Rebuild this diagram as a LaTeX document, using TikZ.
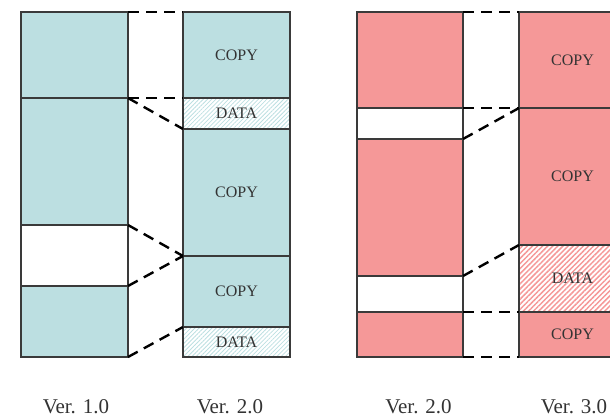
\documentclass[tikz,border=0pt]{standalone}
\usepackage{fontspec}
\setmainfont{Liberation Serif}
\usetikzlibrary{patterns.meta}
\definecolor{tealfill}{HTML}{BCDFE1}
\definecolor{pinkfill}{HTML}{F59898}
\definecolor{edge}{HTML}{3A3A3A}
\definecolor{txt}{HTML}{333333}
\begin{document}
\begin{tikzpicture}[x=1pt,y=-1pt,
  seg/.style={draw=edge, line width=1.1pt, anchor=north west, inner sep=0pt, outer sep=0pt,
    text=txt, font=\fontsize{16}{18}\selectfont},
  tealseg/.style={seg, fill=tealfill},
  pinkseg/.style={seg, fill=pinkfill},
  whiteseg/.style={seg, fill=white},
  tealdata/.style={seg, pattern={Lines[angle=45,distance=3pt,line width=0.8pt]}, pattern color=tealfill},
  pinkdata/.style={seg, pattern={Lines[angle=45,distance=3.6pt,line width=1.5pt]}, pattern color=pinkfill},
  link/.style={draw=black, line width=2.4pt, dash pattern=on 11pt off 7pt},
  ver/.style={anchor=base, text=txt, font=\fontsize{21}{24}\selectfont, inner sep=0pt}]
\clip (0,0) rectangle (610,417);
% Ver 1.0
\node[tealseg,  minimum width=107pt, minimum height=86pt] (a1) at (21,12) {};
\node[tealseg,  minimum width=107pt, minimum height=127pt] (a2) at (21,98) {};
\node[whiteseg, minimum width=107pt, minimum height=61pt] (a3) at (21,225) {};
\node[tealseg,  minimum width=107pt, minimum height=71pt] (a4) at (21,286) {};
% Ver 2.0 (left)
\node[tealseg,  minimum width=107pt, minimum height=86pt] (b1) at (183,12) {COPY};
\node[tealdata, minimum width=107pt, minimum height=31pt] (b2) at (183,98) {DATA};
\node[tealseg,  minimum width=107pt, minimum height=127pt] (b3) at (183,129) {COPY};
\node[tealseg,  minimum width=107pt, minimum height=71pt] (b4) at (183,256) {COPY};
\node[tealdata, minimum width=107pt, minimum height=30pt] (b5) at (183,327) {DATA};
% Ver 2.0 (right)
\node[pinkseg,  minimum width=106pt, minimum height=96pt] (c1) at (357,12) {};
\node[whiteseg, minimum width=106pt, minimum height=31pt] (c2) at (357,108) {};
\node[pinkseg,  minimum width=106pt, minimum height=137pt] (c3) at (357,139) {};
\node[whiteseg, minimum width=106pt, minimum height=36pt] (c4) at (357,276) {};
\node[pinkseg,  minimum width=106pt, minimum height=45pt] (c5) at (357,312) {};
% Ver 3.0
\node[pinkseg,  minimum width=107pt, minimum height=96pt] (d1) at (519,12) {COPY};
\node[pinkseg,  minimum width=107pt, minimum height=137pt] (d2) at (519,108) {COPY};
\node[pinkdata, minimum width=107pt, minimum height=67pt] (d3) at (519,245) {DATA};
\node[pinkseg,  minimum width=107pt, minimum height=45pt] (d4) at (519,312) {COPY};
% connectors left
\draw[link] (a1.north east) -- (b1.north west);
\draw[link] (a1.south east) -- (b1.south west);
\draw[link] (a2.north east) -- (b2.south west);
\draw[link] (a3.north east) -- (b4.north west);
\draw[link] (a3.south east) -- (b4.north west);
\draw[link] (a4.south east) -- (b5.north west);
% connectors right
\draw[link] (c1.north east) -- (d1.north west);
\draw[link] (c1.south east) -- (d1.south west);
\draw[link] (c2.south east) -- (d2.north west);
\draw[link] (c3.south east) -- (d3.north west);
\draw[link] (c4.south east) -- (d4.north west);
\draw[link] (c5.south east) -- (d4.south west);
% labels
\node[ver] (v1) at (76,413) {Ver. 1.0};
\node[ver] (v2) at (230,413) {Ver. 2.0};
\node[ver] (v3) at (418.5,413) {Ver. 2.0};
\node[ver] (v4) at (574,413) {Ver. 3.0};
\end{tikzpicture}
\end{document}
